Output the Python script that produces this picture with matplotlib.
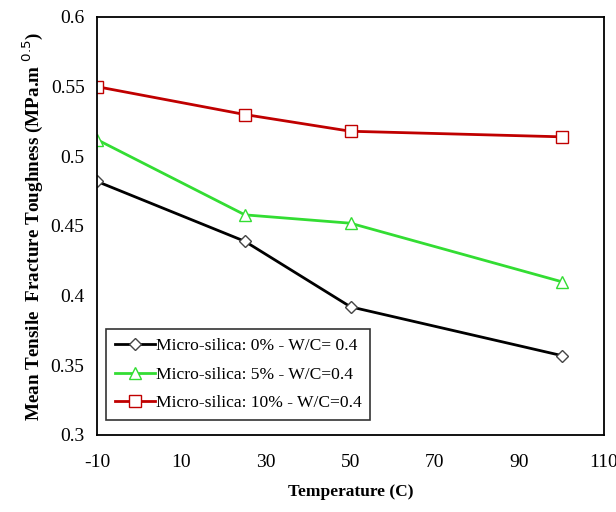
import matplotlib.pyplot as plt

temps = [-10, 25, 50, 100]
ms0 = [0.482, 0.439, 0.392, 0.357]
ms5 = [0.512, 0.458, 0.452, 0.410]
ms10 = [0.550, 0.530, 0.518, 0.514]
labels = ["Micro-silica: 0% - W/C= 0.4",
          "Micro-silica: 5% - W/C=0.4",
          "Micro-silica: 10% - W/C=0.4"]
xticks = [-10, 10, 30, 50, 70, 90, 110]
yticks = [0.3, 0.35, 0.4, 0.45, 0.5, 0.55, 0.6]

plt.rcParams['font.family'] = ['Liberation Serif', 'DejaVu Serif']

fig = plt.figure(figsize=(6.16, 5.12), dpi=100)
ax = fig.add_axes([97 / 616, 1 - 435 / 512, (604 - 97) / 616, (435 - 17) / 512])

ax.plot(temps, ms0, color='black', lw=2, marker='D', ms=6.5,
        mfc='white', mec='#444444', mew=1, label=labels[0])
ax.plot(temps, ms5, color='#33dd33', lw=2, marker='^', ms=8.5,
        mfc='white', mec='#33dd33', mew=1, label=labels[1])
ax.plot(temps, ms10, color='#c00000', lw=2, marker='s', ms=8.5,
        mfc='white', mec='#c00000', mew=1, label=labels[2])

ax.set_xlim(-10, 110)
ax.set_ylim(0.3, 0.6)
ax.set_xticks(xticks)
ax.set_xticklabels([str(t) for t in xticks])
ax.set_yticks(yticks)
ax.set_yticklabels(['0.3', '0.35', '0.4', '0.45', '0.5', '0.55', '0.6'])
ax.tick_params(length=0, labelsize=14)
ax.tick_params(axis='x', pad=14)
ax.tick_params(axis='y', pad=9)
for s in ax.spines.values():
    s.set_linewidth(1.3)

ax.set_xlabel('Temperature (C)', fontsize=12.5, fontweight='bold', labelpad=9)
ax.set_ylabel('Mean Tensile  Fracture Toughness (MPa.m $^{0.5}$)',
              fontsize=13.8, fontweight='bold', labelpad=4)

leg = ax.legend(loc='lower left', fontsize=12.6, frameon=True, fancybox=False,
                edgecolor='black', handlelength=2.3, handletextpad=0.05,
                borderpad=0.5, labelspacing=0.7, bbox_to_anchor=(0.0, 0.015))
leg.get_frame().set_linewidth(1.2)

fig.savefig('out.png', dpi=100)
